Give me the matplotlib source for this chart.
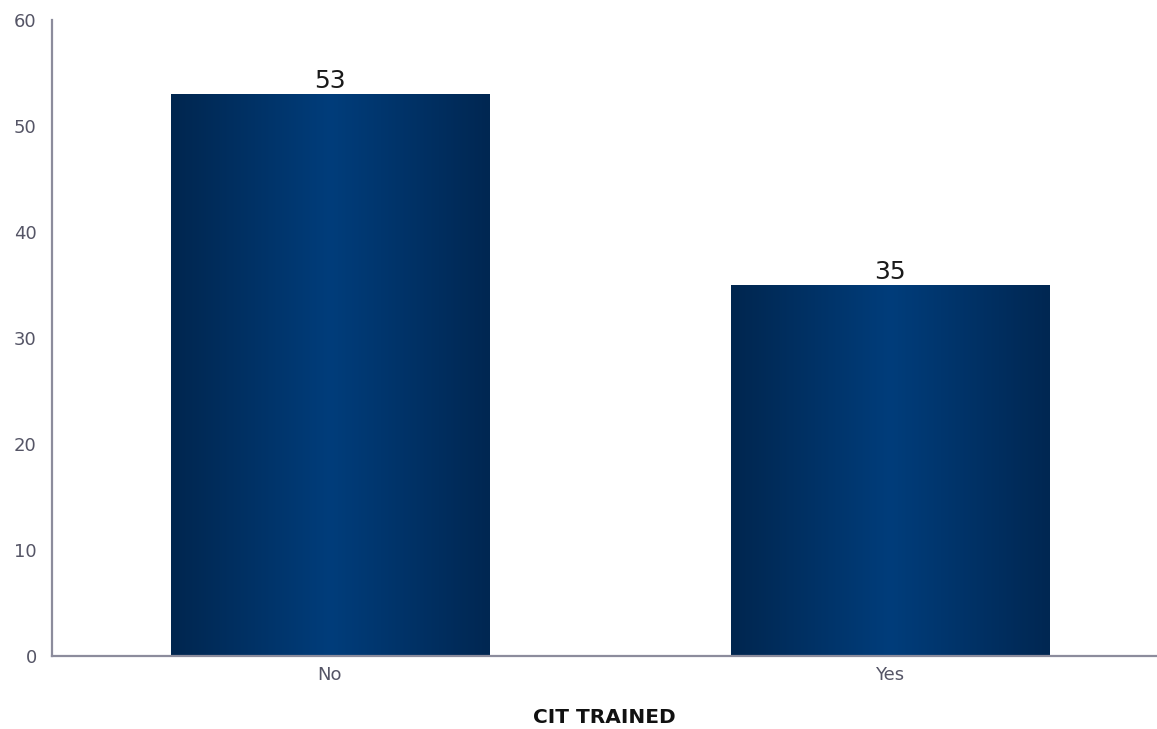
import numpy as np
import matplotlib
matplotlib.use("Agg")
import matplotlib.pyplot as plt
from matplotlib.colors import LinearSegmentedColormap

categories = ["No", "Yes"]
values = [53, 35]
y_ticks = [0, 10, 20, 30, 40, 50, 60]
x_title = "CIT TRAINED"

fig = plt.figure(figsize=(11.57, 7.29), dpi=100)
ax = fig.add_axes([52 / 1157, 73 / 729, 1 - 52 / 1157, 636 / 729])

cmap = LinearSegmentedColormap.from_list(
    "bar", [(0.0, "#00264f"), (0.5, "#003d7b"), (1.0, "#002752")])
grad = np.linspace(0, 1, 256).reshape(1, -1)

x = np.arange(len(categories))
bars = ax.bar(x, values, width=0.568, color="none", edgecolor="none", zorder=2)
for b, v in zip(bars, values):
    x0, w, h = b.get_x(), b.get_width(), b.get_height()
    im = ax.imshow(grad, cmap=cmap, aspect="auto", extent=[x0, x0 + w, 0, h],
                   zorder=2, interpolation="bicubic")
    im.set_clip_path(b)
    ax.text(b.get_x() + w / 2, h + 0.1, str(v), ha="center", va="bottom",
            fontsize=18, color="#1a1a1a", zorder=3)

ax.set_xlim(-0.496, 1.477)
ax.set_ylim(0, 60)
ax.set_yticks(y_ticks)
ax.set_xticks(x)
ax.set_xticklabels(categories)
ax.tick_params(axis="both", length=0, labelsize=13, colors="#555566")
ax.tick_params(axis="y", pad=11)
ax.tick_params(axis="x", pad=7)
for s in ["top", "right"]:
    ax.spines[s].set_visible(False)
for s in ["left", "bottom"]:
    ax.spines[s].set_color("#8c8c9c")
    ax.spines[s].set_linewidth(1.6)
ax.set_xlabel(x_title, fontsize=14.5, fontweight="bold", color="#111111", labelpad=17.5)

fig.savefig("out.png", dpi=100)
